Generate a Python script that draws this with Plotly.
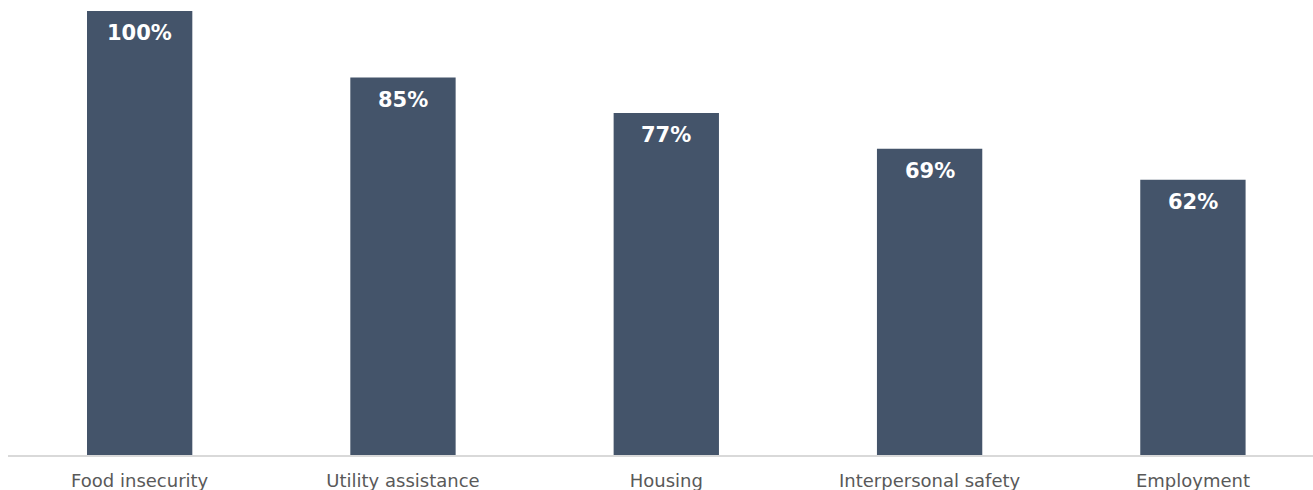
import plotly.graph_objects as go

categories = ["Food insecurity", "Utility assistance", "Housing", "Interpersonal safety", "Employment"]
values = [100, 85, 77, 69, 62]
labels = ["100%", "85%", "77%", "69%", "62%"]

fig = go.Figure(
    go.Bar(
        x=categories,
        y=values,
        marker=dict(color="#44546A", line=dict(width=0)),
        width=0.4,
        hoverinfo="skip",
    )
)

# value labels placed just inside the top of each bar
for cat, val, lab in zip(categories, values, labels):
    fig.add_annotation(
        x=cat,
        y=val,
        text=lab,
        showarrow=False,
        yanchor="top",
        yshift=-8,
        font=dict(family="DejaVu Sans", size=21, color="white", weight="bold"),
    )

fig.update_layout(
    width=1313,
    height=490,
    margin=dict(l=8, r=0, t=11, b=35),
    paper_bgcolor="white",
    plot_bgcolor="white",
    showlegend=False,
    xaxis=dict(
        range=[-0.5, 4.456],
        showline=True,
        linecolor="#D9D9D9",
        linewidth=1.5,
        showgrid=False,
        ticks="",
        ticklabelstandoff=9,
        tickfont=dict(family="DejaVu Sans", size=18, color="#595959"),
        fixedrange=True,
    ),
    yaxis=dict(
        range=[0, 100],
        visible=False,
        showgrid=False,
        fixedrange=True,
    ),
)

fig.write_html("out.html")
